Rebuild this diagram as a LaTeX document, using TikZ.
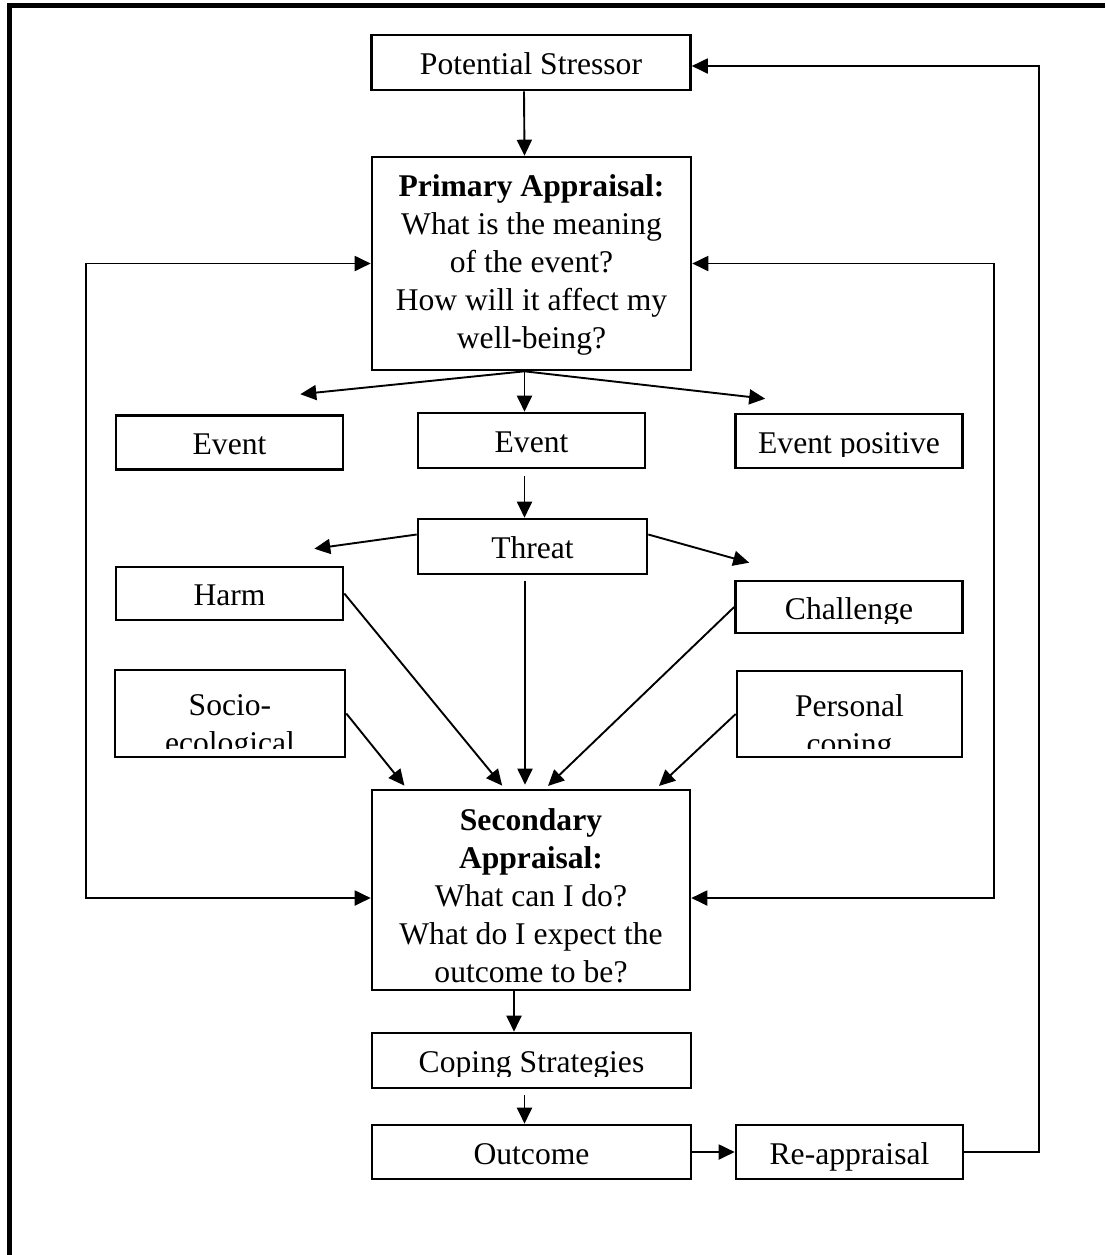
\documentclass[tikz,border=0pt]{standalone}
\usepackage{fontspec}
\setmainfont{Liberation Serif}
\usetikzlibrary{arrows.meta}
\usetikzlibrary{calc}

\tikzset{
  box/.style={draw, line width=1.3pt, inner sep=0pt,
    font=\fontsize{15.8}{19}\selectfont},
  small box/.style={box, minimum width=113.5pt, minimum height=27pt},
  wide box/.style={box, minimum width=159.5pt, minimum height=27.5pt},
  one line/.style={text height=12pt, text depth=0pt},
  label text/.style={inner sep=0pt, align=center,
    font=\fontsize{15.8}{19}\selectfont}
}

% text of a box that is cut off at the bottom
\newcommand{\cliplabel}[4][one line]{%
  \begin{scope}
    \clip ([yshift=#3]#2.south west) rectangle (#2.north east);
    \node[label text,#1] (#2Text) at (#2.center) {#4};
  \end{scope}}

\begin{document}
\begin{tikzpicture}[x=0.5pt, y=-0.5pt,
      >={Triangle[length=8pt,width=7.5pt]},
      line width=0.95pt]

    \useasboundingbox (0,0) rectangle (1105,1255);
    \draw[line width=2.75pt] (9.5,1255) -- (9.5,5.5) -- (1105,5.5);

    \node[wide box, one line]
      (Stressor) at (531,62.5) {Potential Stressor};
    \node[box, align=center, minimum width=159.5pt, minimum height=106.5pt]
      (Primary) at (531.5,263.5)
      {\textbf{Primary Appraisal:}\rule{0pt}{12pt}\\What is the meaning\\of the event?\\How will it affect my\\well-being?};
    \node[small box, one line]
      (EventNeg) at (229.5,442.5) {Event};
    \node[small box, one line, minimum height=27.5pt]
      (EventMid) at (531.5,440.5) {Event};
    \node[small box]
      (EventPos) at (849,441) {};
    \node[small box, one line, minimum width=114.5pt, minimum height=27.5pt]
      (Threat) at (532.5,546.5) {Threat};
    \node[small box, one line, minimum height=26.5pt]
      (Harm) at (229.5,593.5) {Harm};
    \node[small box, minimum height=26pt]
      (Challenge) at (849,607) {};
    \node[small box, minimum width=115pt, minimum height=43.5pt]
      (Socio) at (230,713.5) {};
    \node[small box, minimum width=112.5pt, minimum height=43pt]
      (Personal) at (849.5,714) {};
    \node[box, align=center, minimum width=159pt, minimum height=100pt]
      (Secondary) at (531,890)
      {\textbf{Secondary}\rule{0pt}{17pt}\\\textbf{Appraisal:}\\What can I do?\\What do I expect the\\outcome to be?};
    \node[wide box]
      (Coping) at (531.5,1060.5) {};
    \node[wide box, one line, minimum height=27pt]
      (Outcome) at (531.5,1152) {Outcome};
    \node[small box, one line]
      (Reappraisal) at (849.5,1152) {Re-appraisal};

    \cliplabel{EventPos}{6.5pt}{Event positive}
    \cliplabel{Challenge}{5.5pt}{Challenge}
    \cliplabel[yshift=-7pt]{Socio}{5pt}{Socio-\\ecological}
    \cliplabel[yshift=-7pt]{Personal}{5pt}{Personal\\coping}
    \cliplabel{Coping}{6.5pt}{Coping Strategies}

    % appraisal of the event
    \draw[->] ([xshift=-3.5pt]Stressor.south) -- ([xshift=-3.5pt]Primary.north);
    \coordinate (Fan) at ([xshift=-3.5pt]Primary.south);
    \draw[->] (Fan) -- ($(EventNeg.north east)+(-44,-20)$);
    \draw[->] (Fan) -- (Fan |- EventMid.north);
    \draw[->] (Fan) -- ($(EventPos.north west)+(31,-14)$);
    \draw[->, shorten <=3.5pt] ([xshift=-3.5pt]EventMid.south)
      -- ([xshift=-3.5pt]EventMid.south |- Threat.north);
    \draw[->] ([yshift=6pt]Threat.west) -- ($(Harm.north east)+(-30,-17)$);
    \draw[->] ([yshift=6pt]Threat.east) -- ($(Challenge.north west)+(15,-17)$);

    % into secondary appraisal
    \draw[->, shorten >=2pt] (Harm.east)
      -- ($(Secondary.north west)!.418!(Secondary.north east)$);
    \draw[->, shorten <=3pt, shorten >=2pt] ([xshift=-3.75pt]Threat.south)
      -- ([xshift=-3.75pt]Threat.south |- Secondary.north);
    \draw[->, shorten >=2pt] (Challenge.west)
      -- ($(Secondary.north west)!.544!(Secondary.north east)$);
    \draw[->, shorten >=2pt] (Socio.east)
      -- ($(Secondary.north west)!.113!(Secondary.north east)$);
    \draw[->, shorten >=2pt] (Personal.west)
      -- ($(Secondary.north west)!.89!(Secondary.north east)$);

    % feedback between the appraisals
    \draw[<->] (Primary.west) -- ++(-285,0) |- ([yshift=-4pt]Secondary.west);
    \draw[<->] (Primary.east) -- ++(302,0) |- ([yshift=-4pt]Secondary.east);

    % coping and outcome
    \draw[->] ([xshift=-8.5pt]Secondary.south)
      -- ([xshift=-8.5pt]Secondary.south |- Coping.north);
    \draw[->, shorten <=3pt] ([xshift=-3.5pt]Coping.south)
      -- ([xshift=-3.5pt]Coping.south |- Outcome.north);
    \draw[->] (Outcome) -- (Reappraisal);
    \draw[->] (Reappraisal.east) -- ++(75,0) |- ([yshift=-1.75pt]Stressor.east);

  \end{tikzpicture}
\end{document}
